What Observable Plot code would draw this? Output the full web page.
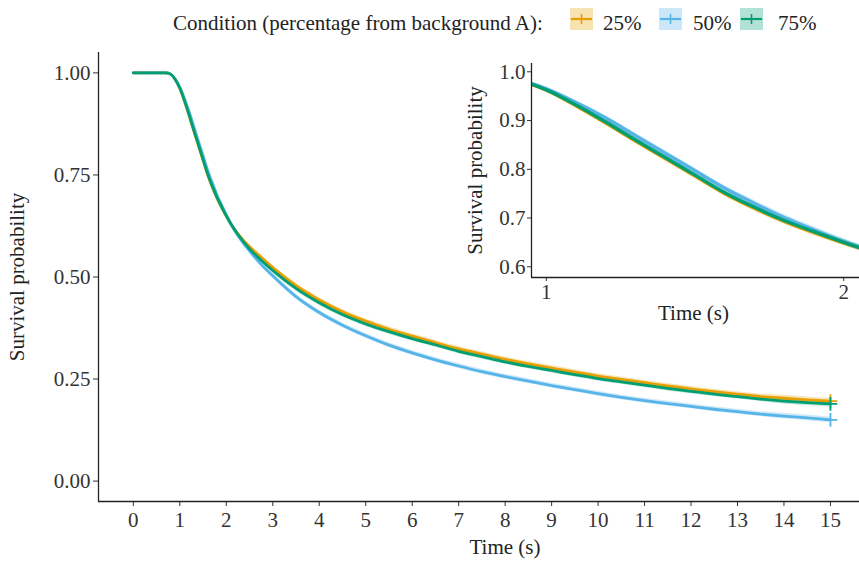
<!DOCTYPE html>
<html>
<head>
<meta charset="utf-8">
<script src="https://cdn.jsdelivr.net/npm/d3@7"></script>
<script src="https://cdn.jsdelivr.net/npm/@observablehq/plot@0.6"></script>
<style>
  html, body { margin: 0; padding: 0; background: #fff; }
  #page { position: relative; width: 859px; height: 562px; overflow: hidden; font-family: "Liberation Serif", serif; }
  #legend { position: relative; width: 859px; height: 40px; font-size: 21px; color: #222; }
  #legend .t { position: absolute; top: 12.5px; line-height: 21px; white-space: nowrap; }
  #legend svg.sw { position: absolute; top: 8px; }
  #inset { position: absolute; left: 460px; top: 40px; }
  svg text { font-family: "Liberation Serif", serif !important; }
</style>
</head>
<body>
<div id="page">
  <div id="legend"></div>
  <div id="main"></div>
  <div id="inset"></div>
</div>
<script>
// ---- data ----
const conditions = ["25%", "50%", "75%"];
const colors = ["#E69F00", "#56B4E9", "#009E73"];
const legendTitle = "Condition (percentage from background A):";

const times = [0, 0.5, 0.7, 0.8, 0.9,
  1.0, 1.1, 1.2, 1.3, 1.4, 1.5, 1.6, 1.7, 1.8, 1.9, 2.0, 2.1,
  2.25, 2.5, 2.75,
  3, 3.5, 4, 4.5, 5, 5.5, 6, 6.5, 7, 7.5, 8, 8.5, 9, 9.5, 10, 10.5, 11, 11.5, 12, 12.5, 13, 13.5, 14, 14.5, 15];

const surv25 = [1, 1, 1.0, 0.997, 0.984,
  0.962, 0.930, 0.895, 0.858, 0.822, 0.786, 0.750, 0.720, 0.693, 0.670, 0.649, 0.630,
  0.606, 0.574, 0.548,
  0.523, 0.479, 0.444, 0.415, 0.392, 0.372, 0.355, 0.339, 0.324, 0.311, 0.298, 0.287, 0.277, 0.267, 0.257, 0.249, 0.241, 0.233, 0.226, 0.219, 0.213, 0.207, 0.203, 0.199, 0.196];

const surv50 = [1, 1, 1.0, 0.997, 0.985,
  0.965, 0.937, 0.905, 0.869, 0.833, 0.797, 0.761, 0.730, 0.701, 0.676, 0.652, 0.630,
  0.602, 0.564, 0.531,
  0.503, 0.452, 0.413, 0.382, 0.356, 0.333, 0.314, 0.297, 0.282, 0.268, 0.256, 0.245, 0.234, 0.224, 0.214, 0.205, 0.197, 0.190, 0.183, 0.176, 0.170, 0.164, 0.159, 0.155, 0.150];

const surv75 = [1, 1, 1.0, 0.997, 0.984,
  0.963, 0.932, 0.897, 0.860, 0.824, 0.788, 0.752, 0.722, 0.695, 0.672, 0.650, 0.630,
  0.604, 0.569, 0.541,
  0.516, 0.472, 0.437, 0.408, 0.385, 0.366, 0.349, 0.334, 0.318, 0.305, 0.292, 0.281, 0.271, 0.261, 0.251, 0.243, 0.235, 0.227, 0.220, 0.213, 0.207, 0.201, 0.196, 0.192, 0.189];

// half-width of the confidence ribbon at each time (estimated)
const ciHalf = [0, 0, 0.001, 0.002, 0.003,
  0.004, 0.004, 0.005, 0.005, 0.005, 0.005, 0.005, 0.006, 0.006, 0.006, 0.006, 0.006,
  0.006, 0.006, 0.006,
  0.006, 0.006, 0.006, 0.006, 0.006, 0.006, 0.006, 0.006, 0.006, 0.006, 0.006, 0.006, 0.006, 0.006, 0.006, 0.006, 0.006, 0.006, 0.006, 0.006, 0.006, 0.006, 0.007, 0.007, 0.007];

const xTicks = [0, 1, 2, 3, 4, 5, 6, 7, 8, 9, 10, 11, 12, 13, 14, 15];
const yTicks = [0, 0.25, 0.5, 0.75, 1.0];
const insetXTicks = [1, 2];
const insetYTicks = [0.6, 0.7, 0.8, 0.9, 1.0];

// ---- build table ----
const seriesList = [surv25, surv50, surv75];
const rows = [];
conditions.forEach((c, i) => {
  times.forEach((t, j) => {
    const v = seriesList[i][j];
    rows.push({cond: c, t, v, lo: v - ciHalf[j], hi: Math.min(1, v + ciHalf[j])});
  });
});
const ends = conditions.map((c, i) => ({cond: c, t: times[times.length - 1], v: seriesList[i][times.length - 1]}));

// ---- legend ----
const legend = document.getElementById("legend");
function addText(txt, left) {
  const s = document.createElement("span");
  s.className = "t"; s.textContent = txt; s.style.left = left + "px";
  legend.appendChild(s);
}
addText(legendTitle, 173);
const swX = [570, 659, 740];
const txX = [603, 693, 778];
conditions.forEach((c, i) => {
  const ns = "http://www.w3.org/2000/svg";
  const svg = document.createElementNS(ns, "svg");
  svg.setAttribute("class", "sw");
  svg.setAttribute("width", 23); svg.setAttribute("height", 22);
  svg.style.left = swX[i] + "px";
  const r = document.createElementNS(ns, "rect");
  r.setAttribute("width", 23); r.setAttribute("height", 22);
  r.setAttribute("fill", colors[i]); r.setAttribute("fill-opacity", 0.3);
  svg.appendChild(r);
  const h = document.createElementNS(ns, "line");
  h.setAttribute("x1", 1); h.setAttribute("x2", 22); h.setAttribute("y1", 11); h.setAttribute("y2", 11);
  h.setAttribute("stroke", colors[i]); h.setAttribute("stroke-width", 2.2);
  svg.appendChild(h);
  const v = document.createElementNS(ns, "line");
  v.setAttribute("x1", 11.5); v.setAttribute("x2", 11.5); v.setAttribute("y1", 6); v.setAttribute("y2", 16);
  v.setAttribute("stroke", colors[i]); v.setAttribute("stroke-width", 1.6);
  svg.appendChild(v);
  legend.appendChild(svg);
  addText(c, txX[i]);
});

// ---- main plot ----
const main = Plot.plot({
  width: 859, height: 522,
  marginLeft: 98, marginRight: 0, marginTop: 12, marginBottom: 61,
  style: {fontFamily: "Liberation Serif", fontSize: "21px", color: "#333", background: "white"},
  x: {domain: [-0.75, 15.625], ticks: xTicks, tickSize: 5, tickPadding: 6, label: null, tickFormat: d => String(d)},
  y: {domain: [-0.05, 1.05], ticks: yTicks, tickSize: 5, tickPadding: 3, label: null, tickFormat: d3.format(".2f")},
  color: {domain: conditions, range: colors},
  marks: [
    Plot.areaY(rows, {x: "t", y1: "lo", y2: "hi", z: "cond", fill: "cond", fillOpacity: 0.28, curve: "monotone-x"}),
    Plot.lineY(rows, {x: "t", y: "v", z: "cond", stroke: "cond", strokeWidth: 2.8, curve: "monotone-x"}),
    Plot.dot(ends, {x: "t", y: "v", stroke: "cond", symbol: "plus", r: 4.5, strokeWidth: 1.8}),
    Plot.ruleX([-0.75], {stroke: "#222", strokeWidth: 1.3}),
    Plot.ruleY([-0.05], {stroke: "#222", strokeWidth: 1.3}),
    Plot.text(["Time (s)"], {frameAnchor: "bottom", dx: 26, dy: 46, textAnchor: "middle", lineAnchor: "middle", fill: "#222", fontSize: 21}),
    Plot.text(["Survival probability"], {frameAnchor: "left", dx: -81, rotate: -90, textAnchor: "middle", lineAnchor: "middle", fill: "#222", fontSize: 21})
  ]
});
document.getElementById("main").appendChild(main);

// ---- inset plot ----
const insetRows = rows.filter(d => d.t >= 0.8 && d.t <= 2.5);
const inset = Plot.plot({
  width: 399, height: 290,
  marginLeft: 71, marginRight: 0, marginTop: 23, marginBottom: 53,
  style: {fontFamily: "Liberation Serif", fontSize: "21px", color: "#333", background: "transparent"},
  x: {domain: [0.95, 2.053], ticks: insetXTicks, tickSize: 4, tickPadding: 3, label: null, tickFormat: d => String(d)},
  y: {domain: [0.578, 1.017], ticks: insetYTicks, tickSize: 4, tickPadding: 2, label: null, tickFormat: d3.format(".1f")},
  color: {domain: conditions, range: colors},
  marks: [
    Plot.areaY(insetRows, {x: "t", y1: "lo", y2: "hi", z: "cond", fill: "cond", fillOpacity: 0.28, curve: "monotone-x", clip: true}),
    Plot.lineY(insetRows, {x: "t", y: "v", z: "cond", stroke: "cond", strokeWidth: 3.4, curve: "monotone-x", clip: true}),
    Plot.ruleX([0.95], {stroke: "#222", strokeWidth: 1.3}),
    Plot.ruleY([0.578], {stroke: "#222", strokeWidth: 1.3}),
    Plot.text(["Time (s)"], {frameAnchor: "bottom", dx: -2, dy: 36, textAnchor: "middle", lineAnchor: "middle", fill: "#222", fontSize: 21}),
    Plot.text(["Survival probability"], {frameAnchor: "left", dx: -56, rotate: -90, textAnchor: "middle", lineAnchor: "middle", fill: "#222", fontSize: 21})
  ]
});
document.getElementById("inset").appendChild(inset);
</script>
</body>
</html>
